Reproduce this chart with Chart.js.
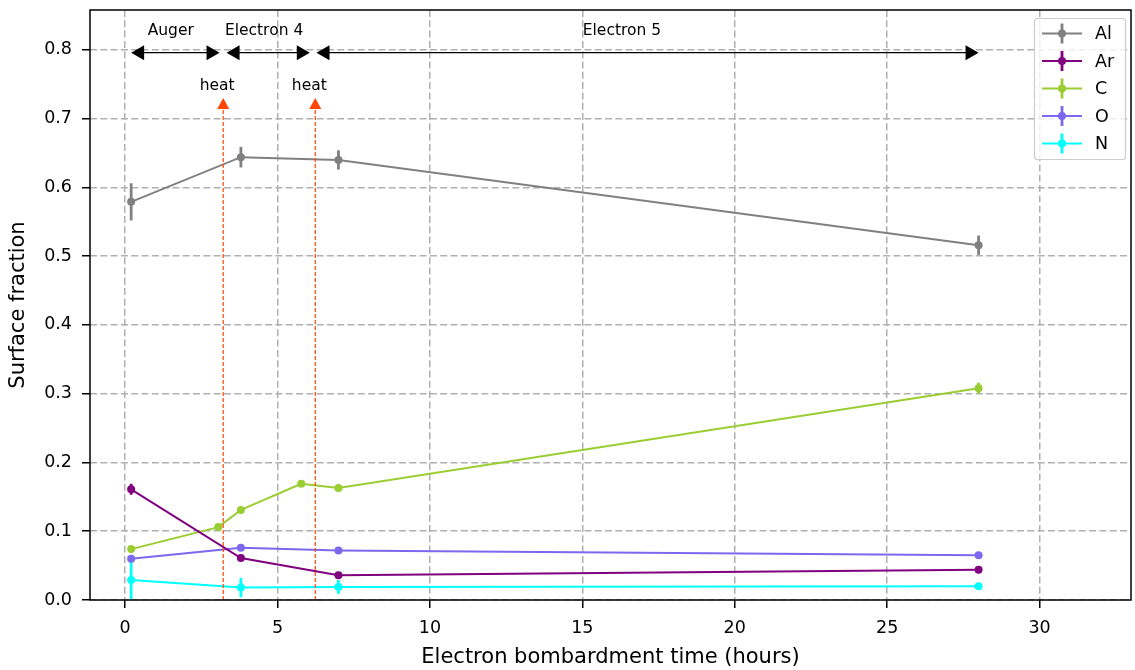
<!DOCTYPE html>
<html>
<head>
<meta charset="utf-8">
<script src="https://cdn.jsdelivr.net/npm/chart.js@4/dist/chart.umd.min.js"></script>
<style>
  body { margin: 0; background: #fff; }
  #wrap { width: 1135px; height: 670px; }
</style>
</head>
<body>
<div id="wrap"><canvas id="mainCanvas" width="1135" height="670"></canvas></div>
<script>
// values
const seriesNames = ['Al', 'Ar', 'C', 'O', 'N'];
const seriesColors = ['#808080', '#800080', '#9acd32', '#7b68ee', '#00ffff'];

const alX = [0.2, 3.8, 7, 28];
const alY = [0.579, 0.644, 0.640, 0.516];
const alErr = [0.027, 0.015, 0.014, 0.014];

const arX = [0.2, 3.8, 7, 28];
const arY = [0.161, 0.061, 0.036, 0.044];
const arErr = [0.008, 0.004, 0.003, 0.003];

const cX = [0.2, 3.06, 3.8, 5.78, 7, 28];
const cY = [0.074, 0.106, 0.131, 0.169, 0.163, 0.308];
const cErr = [0.003, 0.003, 0.003, 0.003, 0.003, 0.008];

const oX = [0.2, 3.8, 7, 28];
const oY = [0.060, 0.076, 0.072, 0.065];
const oErr = [0.003, 0.003, 0.003, 0.003];

const nX = [0.2, 3.8, 7, 28];
const nY = [0.029, 0.018, 0.019, 0.020];
const nErr = [0.033, 0.014, 0.010, 0.005];

const xTicks = [0, 5, 10, 15, 20, 25, 30];
const yTicks = [0, 0.1, 0.2, 0.3, 0.4, 0.5, 0.6, 0.7, 0.8];

// phase arrows on top
const phaseLabels = ['Auger', 'Electron 4', 'Electron 5'];
const phaseStart = [0.2, 3.33, 6.28];
const phaseEnd = [3.1, 6.06, 28];
const phaseLabelX = [1.5, 4.56, 16.3];
const phaseY = 0.796;
const phaseLabelY = 0.828;

// heat markers
const heatX = [3.22, 6.24];
const heatTop = 0.73;
const heatLabelY = 0.748;

const allX = [alX, arX, cX, oX, nX];
const allY = [alY, arY, cY, oY, nY];
const allErr = [alErr, arErr, cErr, oErr, nErr];

const FONT = '"DejaVu Sans", sans-serif';

const datasets = seriesNames.map((name, i) => ({
    label: name,
    data: allX[i].map((x, j) => ({ x: x, y: allY[i][j] })),
    errs: allErr[i],
    showLine: true,
    borderColor: seriesColors[i],
    backgroundColor: seriesColors[i],
    borderWidth: 2,
    pointRadius: 4,
    pointBorderWidth: 0,
    pointHoverRadius: 4,
    tension: 0,
}));

function triangle(ctx, tipX, tipY, dirX, dirY, len, half) {
    // dir is a unit vector pointing toward the tip
    const bx = tipX - dirX * len, by = tipY - dirY * len;
    ctx.beginPath();
    ctx.moveTo(tipX, tipY);
    ctx.lineTo(bx - dirY * half, by + dirX * half);
    ctx.lineTo(bx + dirY * half, by - dirX * half);
    ctx.closePath();
    ctx.fill();
}

const errorBars = {
    id: 'errorBars',
    beforeDatasetDraw(chart, args) {
        const ds = chart.data.datasets[args.index];
        const xs = chart.scales.x, ys = chart.scales.y;
        const ctx = chart.ctx;
        const area = chart.chartArea;
        ctx.save();
        ctx.beginPath();
        ctx.rect(area.left, area.top, area.right - area.left, area.bottom - area.top);
        ctx.clip();
        ctx.strokeStyle = ds.borderColor;
        ctx.lineWidth = 2.8;
        ds.data.forEach((p, j) => {
            const e = ds.errs[j];
            const px = xs.getPixelForValue(p.x);
            ctx.beginPath();
            ctx.moveTo(px, ys.getPixelForValue(p.y - e));
            ctx.lineTo(px, ys.getPixelForValue(p.y + e));
            ctx.stroke();
        });
        ctx.restore();
    }
};

const decorations = {
    id: 'decorations',
    afterDatasetsDraw(chart) {
        const xs = chart.scales.x, ys = chart.scales.y;
        const ctx = chart.ctx;
        const area = chart.chartArea;
        ctx.save();

        // heat lines
        heatX.forEach(hx => {
            const px = xs.getPixelForValue(hx);
            const top = ys.getPixelForValue(heatTop);
            ctx.strokeStyle = '#ff4500';
            ctx.fillStyle = '#ff4500';
            ctx.lineWidth = 1.2;
            ctx.setLineDash([4, 2]);
            ctx.beginPath();
            ctx.moveTo(px, ys.getPixelForValue(0));
            ctx.lineTo(px, top + 8);
            ctx.stroke();
            ctx.setLineDash([]);
            triangle(ctx, px, top, 0, -1, 11, 6);
            ctx.fillStyle = '#000';
            ctx.font = '15.5px ' + FONT;
            ctx.textAlign = 'center';
            ctx.textBaseline = 'middle';
            ctx.fillText('heat', px - 6, ys.getPixelForValue(heatLabelY));
        });

        // phase arrows
        ctx.strokeStyle = '#000';
        ctx.fillStyle = '#000';
        ctx.lineWidth = 1.2;
        const py = ys.getPixelForValue(phaseY);
        phaseLabels.forEach((lab, i) => {
            const x1 = xs.getPixelForValue(phaseStart[i]);
            const x2 = xs.getPixelForValue(phaseEnd[i]);
            ctx.beginPath();
            ctx.moveTo(x1 + 10, py);
            ctx.lineTo(x2 - 10, py);
            ctx.stroke();
            triangle(ctx, x1, py, -1, 0, 13, 7.5);
            triangle(ctx, x2, py, 1, 0, 13, 7.5);
            ctx.font = '15.5px ' + FONT;
            ctx.textAlign = 'center';
            ctx.textBaseline = 'middle';
            ctx.fillText(lab, xs.getPixelForValue(phaseLabelX[i]), ys.getPixelForValue(phaseLabelY));
        });

        // frame
        ctx.strokeStyle = '#000';
        ctx.lineWidth = 1.5;
        ctx.strokeRect(area.left, area.top, area.right - area.left, area.bottom - area.top);

        // legend
        const lx = 1034, ly = 18, lw = 91, lh = 141;
        ctx.fillStyle = 'rgba(255,255,255,0.8)';
        ctx.strokeStyle = '#cccccc';
        ctx.lineWidth = 1.2;
        ctx.beginPath();
        ctx.roundRect(lx + 0.5, ly + 0.5, lw, lh, 3);
        ctx.fill();
        ctx.stroke();
        seriesNames.forEach((name, i) => {
            const yy = ly + 15.5 + i * 27.5;
            ctx.strokeStyle = seriesColors[i];
            ctx.fillStyle = seriesColors[i];
            ctx.lineWidth = 2;
            ctx.beginPath();
            ctx.moveTo(lx + 8, yy);
            ctx.lineTo(lx + 48, yy);
            ctx.stroke();
            ctx.lineWidth = 2.8;
            ctx.beginPath();
            ctx.moveTo(lx + 28, yy - 10);
            ctx.lineTo(lx + 28, yy + 10);
            ctx.stroke();
            ctx.beginPath();
            ctx.arc(lx + 28, yy, 4, 0, Math.PI * 2);
            ctx.fill();
            ctx.fillStyle = '#000';
            ctx.font = '17.5px ' + FONT;
            ctx.textAlign = 'left';
            ctx.textBaseline = 'middle';
            ctx.fillText(name, lx + 61, yy + 1);
        });
        ctx.restore();
    }
};

const gridStyle = {
    color: '#b0b0b0',
    lineWidth: 1.5,
    tickColor: '#000',
    tickLength: 8,
    tickWidth: 1.5,
    tickBorderDash: [],
};

new Chart(document.getElementById('mainCanvas').getContext('2d'), {
    type: 'scatter',
    data: { datasets: datasets },
    plugins: [errorBars, decorations],
    options: {
        responsive: false,
        animation: false,
        devicePixelRatio: 1,
        layout: { padding: { top: 10, right: 3, left: 0, bottom: 0 } },
        plugins: { legend: { display: false }, tooltip: { enabled: false } },
        scales: {
            x: {
                type: 'linear',
                min: -1.15,
                max: 33,
                afterBuildTicks: s => { s.ticks = xTicks.map(v => ({ value: v })); },
                afterFit: s => { s.height = 70; s.paddingLeft = 0; s.paddingRight = 0; },
                grid: gridStyle,
                border: { display: false, dash: [7, 3.3] },
                ticks: { color: '#000', font: { family: FONT, size: 17.5 }, padding: 10, maxRotation: 0 },
                title: { display: true, text: 'Electron bombardment time (hours)', color: '#000',
                         font: { family: FONT, size: 21 }, padding: { top: 0, bottom: 0 } },
            },
            y: {
                type: 'linear',
                min: 0,
                max: 0.858,
                afterBuildTicks: s => { s.ticks = yTicks.map(v => ({ value: v })); },
                afterFit: s => { s.width = 90; s.paddingTop = 0; s.paddingBottom = 0; },
                grid: gridStyle,
                border: { display: false, dash: [7, 3.3] },
                ticks: { color: '#000', font: { family: FONT, size: 17.5 }, padding: 10,
                         callback: v => v.toFixed(1) },
                title: { display: true, text: 'Surface fraction', color: '#000',
                         font: { family: FONT, size: 21 }, padding: { top: 6, bottom: 0 } },
            },
        },
    },
});
</script>
</body>
</html>
